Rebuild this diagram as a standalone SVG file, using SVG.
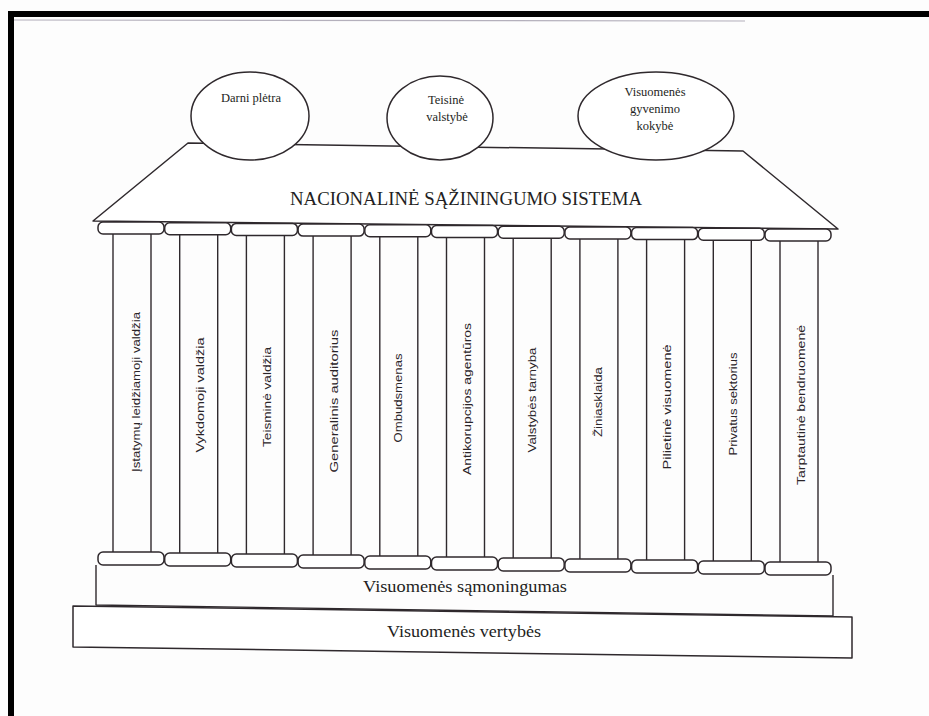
<svg xmlns="http://www.w3.org/2000/svg" width="929" height="716" viewBox="0 0 929 716">
<style>
.ln{fill:none;stroke:#2f292d;stroke-width:1.4;stroke-linejoin:round}
.sh{fill:#fff;stroke:#2f292d;stroke-width:1.5;stroke-linejoin:round}
.cap{fill:#fff;stroke:#2f292d;stroke-width:1.5}
.ser{font-family:"Liberation Serif","DejaVu Serif",serif;fill:#231e22;text-anchor:middle}
.col{font-family:"Liberation Sans","DejaVu Sans",sans-serif;font-size:10.5px;fill:#2a2428;text-anchor:middle}
</style>
<rect x="0" y="0" width="929" height="716" fill="#fdfdfd"/>
<g id="frame">
<rect x="8" y="11" width="921" height="6" fill="#000"/>
<rect x="8" y="11" width="6" height="705" fill="#000"/>
<line x1="14" y1="20" x2="745" y2="21" stroke="#b4b0bc" stroke-width="1.2"/>
</g>
<g id="roof">
<polygon class="sh" points="188,143 743,151 838,229 93,221"/>
<text class="ser" x="466" y="205" font-size="19" textLength="352" lengthAdjust="spacingAndGlyphs">NACIONALINĖ SĄŽININGUMO SISTEMA</text>
</g>
<g id="goal-darni-pletra">
<ellipse class="sh" cx="250" cy="116" rx="59" ry="44"/>
<text class="ser" x="251" y="102" font-size="12.5">Darni plėtra</text>
</g>
<g id="goal-teisine-valstybe">
<ellipse class="sh" cx="440" cy="118" rx="53" ry="42"/>
<text class="ser" x="446" y="104" font-size="12.5">Teisinė</text>
<text class="ser" x="447" y="121" font-size="12.5">valstybė</text>
</g>
<g id="goal-gyvenimo-kokybe">
<ellipse class="sh" cx="656" cy="116" rx="78" ry="44"/>
<text class="ser" x="655" y="96" font-size="12.5">Visuomenės</text>
<text class="ser" x="655" y="113" font-size="12.5">gyvenimo</text>
<text class="ser" x="655" y="130" font-size="12.5">kokybė</text>
</g>
<g id="pillar-1">
<rect class="cap" x="98" y="222" width="66" height="12" rx="5"/>
<line class="ln" x1="113" y1="234" x2="113" y2="552"/><line class="ln" x1="151" y1="234" x2="151" y2="552"/>
<rect class="cap" x="98" y="552" width="66" height="13" rx="5"/>
<text class="col" transform="translate(140,392) rotate(-90)" textLength="160" lengthAdjust="spacingAndGlyphs">Įstatymų leidžiamoji valdžia</text>
</g>
<g id="pillar-2">
<rect class="cap" x="164.7" y="222.7" width="66" height="12" rx="5"/>
<line class="ln" x1="179.7" y1="234.7" x2="179.7" y2="553"/><line class="ln" x1="217.7" y1="234.7" x2="217.7" y2="553"/>
<rect class="cap" x="164.7" y="553" width="66" height="13" rx="5"/>
<text class="col" transform="translate(204,395) rotate(-90)" textLength="115" lengthAdjust="spacingAndGlyphs">Vykdomoji valdžia</text>
</g>
<g id="pillar-3">
<rect class="cap" x="231.4" y="223.4" width="66" height="12" rx="5"/>
<line class="ln" x1="246.4" y1="235.4" x2="246.4" y2="554"/><line class="ln" x1="284.4" y1="235.4" x2="284.4" y2="554"/>
<rect class="cap" x="231.4" y="554" width="66" height="13" rx="5"/>
<text class="col" transform="translate(271,397) rotate(-90)" textLength="100" lengthAdjust="spacingAndGlyphs">Teisminė valdžia</text>
</g>
<g id="pillar-4">
<rect class="cap" x="298.1" y="224.1" width="66" height="12" rx="5"/>
<line class="ln" x1="313.1" y1="236.1" x2="313.1" y2="555"/><line class="ln" x1="351.1" y1="236.1" x2="351.1" y2="555"/>
<rect class="cap" x="298.1" y="555" width="66" height="13" rx="5"/>
<text class="col" transform="translate(338,401) rotate(-90)" textLength="143" lengthAdjust="spacingAndGlyphs">Generalinis auditorius</text>
</g>
<g id="pillar-5">
<rect class="cap" x="364.8" y="224.8" width="66" height="12" rx="5"/>
<line class="ln" x1="379.8" y1="236.8" x2="379.8" y2="556"/><line class="ln" x1="417.8" y1="236.8" x2="417.8" y2="556"/>
<rect class="cap" x="364.8" y="556" width="66" height="13" rx="5"/>
<text class="col" transform="translate(402,398) rotate(-90)" textLength="89" lengthAdjust="spacingAndGlyphs">Ombudsmenas</text>
</g>
<g id="pillar-6">
<rect class="cap" x="431.5" y="225.5" width="66" height="12" rx="5"/>
<line class="ln" x1="446.5" y1="237.5" x2="446.5" y2="557"/><line class="ln" x1="484.5" y1="237.5" x2="484.5" y2="557"/>
<rect class="cap" x="431.5" y="557" width="66" height="13" rx="5"/>
<text class="col" transform="translate(471,399) rotate(-90)" textLength="152" lengthAdjust="spacingAndGlyphs">Antikorupcijos agentūros</text>
</g>
<g id="pillar-7">
<rect class="cap" x="498.2" y="226.2" width="66" height="12" rx="5"/>
<line class="ln" x1="513.2" y1="238.2" x2="513.2" y2="558"/><line class="ln" x1="551.2" y1="238.2" x2="551.2" y2="558"/>
<rect class="cap" x="498.2" y="558" width="66" height="13" rx="5"/>
<text class="col" transform="translate(536,400) rotate(-90)" textLength="105" lengthAdjust="spacingAndGlyphs">Valstybės tarnyba</text>
</g>
<g id="pillar-8">
<rect class="cap" x="564.9" y="226.9" width="66" height="12" rx="5"/>
<line class="ln" x1="579.9" y1="238.9" x2="579.9" y2="559"/><line class="ln" x1="617.9" y1="238.9" x2="617.9" y2="559"/>
<rect class="cap" x="564.9" y="559" width="66" height="13" rx="5"/>
<text class="col" transform="translate(602,402) rotate(-90)" textLength="70" lengthAdjust="spacingAndGlyphs">Žiniasklaida</text>
</g>
<g id="pillar-9">
<rect class="cap" x="631.6" y="227.6" width="66" height="12" rx="5"/>
<line class="ln" x1="646.6" y1="239.6" x2="646.6" y2="560"/><line class="ln" x1="684.6" y1="239.6" x2="684.6" y2="560"/>
<rect class="cap" x="631.6" y="560" width="66" height="13" rx="5"/>
<text class="col" transform="translate(671,407) rotate(-90)" textLength="125" lengthAdjust="spacingAndGlyphs">Pilietinė visuomenė</text>
</g>
<g id="pillar-10">
<rect class="cap" x="698.3" y="228.3" width="66" height="12" rx="5"/>
<line class="ln" x1="713.3" y1="240.3" x2="713.3" y2="561"/><line class="ln" x1="751.3" y1="240.3" x2="751.3" y2="561"/>
<rect class="cap" x="698.3" y="561" width="66" height="13" rx="5"/>
<text class="col" transform="translate(737,404) rotate(-90)" textLength="103" lengthAdjust="spacingAndGlyphs">Privatus sektorius</text>
</g>
<g id="pillar-11">
<rect class="cap" x="765" y="229" width="66" height="12" rx="5"/>
<line class="ln" x1="780" y1="241" x2="780" y2="562"/><line class="ln" x1="818" y1="241" x2="818" y2="562"/>
<rect class="cap" x="765" y="562" width="66" height="13" rx="5"/>
<text class="col" transform="translate(805,405) rotate(-90)" textLength="160" lengthAdjust="spacingAndGlyphs">Tarptautinė bendruomenė</text>
</g>
<g id="base-samoningumas">
<polyline class="ln" points="96,565 96,605 833,616 833,575"/>
<text class="ser" x="465" y="592" font-size="16" textLength="204" lengthAdjust="spacingAndGlyphs">Visuomenės sąmoningumas</text>
</g>
<g id="base-vertybes">
<polygon class="sh" points="73,606 852,617 852,658 73,647"/>
<text class="ser" x="464" y="637" font-size="16" textLength="154" lengthAdjust="spacingAndGlyphs">Visuomenės vertybės</text>
</g>
<g id="connectors"></g>
</svg>
